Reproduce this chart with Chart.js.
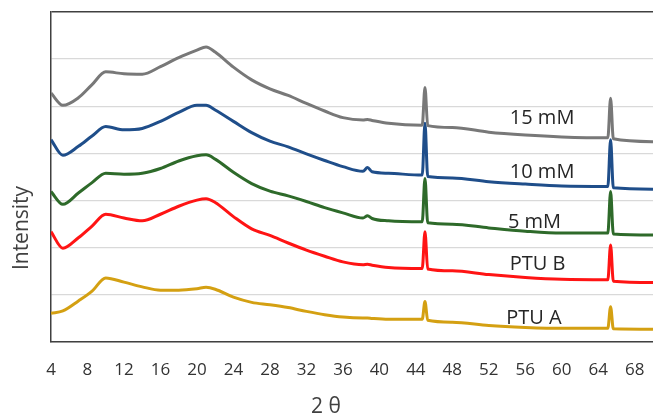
<!DOCTYPE html>
<html>
<head>
<meta charset="utf-8">
<script src="https://cdn.jsdelivr.net/npm/chart.js@4/dist/chart.umd.min.js"></script>
<style>
html,body{margin:0;padding:0;background:#fff;overflow:hidden;}
canvas{display:block;}
</style>
</head>
<body>
<canvas id="c" width="653" height="417"></canvas>
<script>
// 2θ positions (degrees)
const theta = [4, 5.3, 7, 8.5, 10, 12, 14, 16, 18, 20, 21, 22, 24, 26, 28, 30, 32, 34, 36, 38.2, 38.7, 39.2, 41, 44.7, 45.0, 45.3, 48, 52, 56, 60, 65.05, 65.35, 65.65, 70];

// Intensity (offset, arbitrary units) for each sample
const mM15 = [5.28, 5.02, 5.18, 5.46, 5.73, 5.69, 5.68, 5.84, 6.03, 6.19, 6.26, 6.15, 5.83, 5.56, 5.37, 5.23, 5.06, 4.90, 4.76, 4.71, 4.72, 4.70, 4.64, 4.60, 5.40, 4.59, 4.55, 4.45, 4.39, 4.35, 4.33, 5.17, 4.31, 4.25];
const mM10 = [4.29, 3.96, 4.15, 4.37, 4.57, 4.50, 4.53, 4.68, 4.87, 5.02, 5.02, 4.92, 4.68, 4.44, 4.26, 4.14, 3.99, 3.85, 3.72, 3.62, 3.70, 3.61, 3.58, 3.54, 4.64, 3.51, 3.48, 3.40, 3.35, 3.31, 3.30, 4.29, 3.27, 3.24];
const mM5  = [3.19, 2.92, 3.16, 3.38, 3.58, 3.56, 3.58, 3.68, 3.84, 3.95, 3.97, 3.88, 3.60, 3.36, 3.20, 3.10, 2.98, 2.85, 2.74, 2.63, 2.68, 2.62, 2.57, 2.55, 3.47, 2.53, 2.50, 2.42, 2.35, 2.31, 2.31, 3.19, 2.29, 2.27];
const ptuB = [2.34, 1.99, 2.21, 2.46, 2.71, 2.63, 2.57, 2.71, 2.88, 3.01, 3.04, 2.96, 2.66, 2.40, 2.26, 2.10, 1.95, 1.82, 1.70, 1.64, 1.65, 1.63, 1.58, 1.56, 2.34, 1.55, 1.51, 1.43, 1.37, 1.33, 1.32, 2.06, 1.29, 1.26];
const ptuA = [0.61, 0.66, 0.87, 1.08, 1.36, 1.27, 1.17, 1.10, 1.10, 1.13, 1.16, 1.12, 0.95, 0.84, 0.79, 0.73, 0.65, 0.58, 0.53, 0.51, 0.51, 0.50, 0.48, 0.48, 0.86, 0.46, 0.42, 0.35, 0.31, 0.29, 0.29, 0.75, 0.28, 0.27];

const seriesNames = ["15 mM", "10 mM", "5 mM", "PTU B", "PTU A"];
// label anchor (left edge in 2θ, vertical centre in intensity units)
const labelX = [54.3, 54.3, 54.1, 54.3, 53.9];
const labelY = [4.75, 3.59, 2.53, 1.65, 0.51];

const xTicks = [4, 8, 12, 16, 20, 24, 28, 32, 36, 40, 44, 48, 52, 56, 60, 64, 68];

const colors = ["#787878", "#1f4e8a", "#2e6a2a", "#ff1414", "#d4a012"];
const allSeries = [mM15, mM10, mM5, ptuB, ptuA];

const datasets = allSeries.map((vals, i) => ({
  label: seriesNames[i],
  data: theta.map((t, k) => ({x: t, y: vals[k]})),
  borderColor: colors[i],
  borderWidth: 3,
  pointRadius: 0,
  fill: false,
  cubicInterpolationMode: 'monotone'
}));

const textPlugin = {
  id: 'texts',
  afterDraw(chart) {
    const ctx = chart.ctx;
    const xs = chart.scales.x, ys = chart.scales.y;
    ctx.save();
    ctx.fillStyle = '#262626';
    ctx.font = '20px "Open Sans"';
    ctx.textAlign = 'left';
    ctx.textBaseline = 'middle';
    seriesNames.forEach((n, i) => {
      ctx.fillText(n, xs.getPixelForValue(labelX[i]), ys.getPixelForValue(labelY[i]));
    });
    ctx.fillStyle = '#404040';
    ctx.font = '21px "Open Sans"';
    ctx.textAlign = 'center';
    ctx.fillText('2 θ', 326, 407);
    ctx.translate(22, 228);
    ctx.rotate(-Math.PI / 2);
    ctx.fillText('Intensity', 0, 0);
    ctx.restore();
  }
};

new Chart(document.getElementById('c'), {
  type: 'line',
  data: { datasets },
  options: {
    responsive: false,
    animation: false,
    layout: { padding: { left: 51, top: 12, right: 0, bottom: 0 } },
    plugins: { legend: { display: false }, tooltip: { enabled: false } },
    scales: {
      x: {
        type: 'linear',
        min: 4, max: 70,
        afterBuildTicks: (s) => { s.ticks = xTicks.map(v => ({value: v})); },
        afterFit: (s) => { s.height = 75; s.paddingRight = 0; s.paddingLeft = 0; },
        grid: { display: false, drawTicks: false },
        border: { display: true, color: '#404040', width: 1.5 },
        ticks: { color: '#333333', font: { family: 'Open Sans', size: 17 }, padding: 18, maxRotation: 0, autoSkip: false }
      },
      y: {
        min: 0, max: 7,
        ticks: { display: false, stepSize: 1 },
        grid: {
          drawTicks: false,
          color: (c) => c.tick && c.tick.value === 7 ? '#404040' : '#d9d9d9',
          lineWidth: (c) => c.tick && c.tick.value === 7 ? 1.5 : 1.3
        },
        border: { display: true, color: '#404040', width: 1.5 }
      }
    }
  },
  plugins: [textPlugin]
});
</script>
</body>
</html>
